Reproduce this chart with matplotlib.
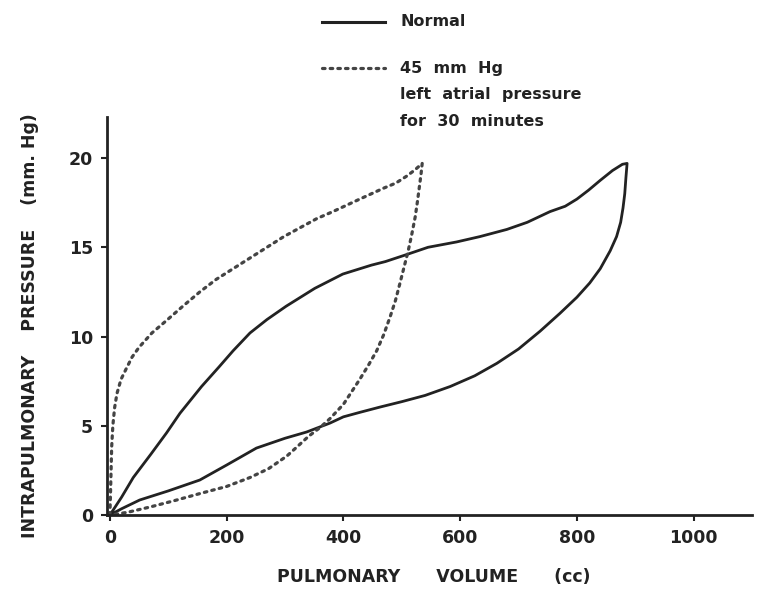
import matplotlib.pyplot as plt
from matplotlib.lines import Line2D

# pressure-volume loops, volume in cc, pressure in mm Hg
normal_in_vol = [0, 20, 40, 70, 97, 120, 157, 187, 211, 240, 269, 302, 351, 399,
                 448, 472, 509, 545, 594, 634, 680, 715, 754, 780, 800, 820, 840,
                 861, 878, 886]
normal_in_pres = [0, 1.0, 2.1, 3.4, 4.6, 5.7, 7.2, 8.3, 9.2, 10.2, 10.95, 11.7,
                  12.7, 13.5, 14.0, 14.2, 14.6, 15.0, 15.3, 15.6, 16.0, 16.4,
                  17.0, 17.3, 17.7, 18.2, 18.75, 19.3, 19.65, 19.7]
normal_out_vol = [886, 884, 882, 879, 875, 868, 857, 840, 822, 800, 771, 737,
                  700, 663, 625, 583, 540, 500, 463, 428, 400, 377, 337, 300,
                  251, 200, 154, 100, 51, 20, 0]
normal_out_pres = [19.7, 18.9, 18.0, 17.2, 16.4, 15.6, 14.8, 13.8, 13.0, 12.2,
                   11.3, 10.3, 9.3, 8.5, 7.8, 7.2, 6.7, 6.35, 6.05, 5.75, 5.5,
                   5.15, 4.65, 4.3, 3.75, 2.8, 1.96, 1.35, 0.84, 0.35, 0]

lap_in_vol = [0, 1, 2, 3, 5, 8, 12, 19, 28, 38, 50, 72, 97, 125, 154, 182, 211,
              240, 269, 298, 326, 354, 382, 405, 428, 468, 490, 509, 523, 535]
lap_in_pres = [0, 1.2, 2.5, 3.8, 5.0, 6.0, 6.8, 7.6, 8.2, 8.85, 9.4, 10.2, 10.9,
               11.7, 12.5, 13.2, 13.8, 14.4, 15.0, 15.6, 16.1, 16.6, 17.0, 17.35,
               17.7, 18.3, 18.6, 19.0, 19.35, 19.7]
lap_out_vol = [535, 533, 531, 527, 523, 517, 511, 504, 497, 489, 480, 469, 457,
               443, 428, 414, 400, 377, 360, 340, 320, 303, 272, 240, 200, 154,
               110, 69, 30, 0]
lap_out_pres = [19.7, 19.1, 18.6, 17.6, 16.7, 15.7, 14.8, 13.9, 13.0, 12.0, 11.1,
                10.1, 9.2, 8.4, 7.6, 6.9, 6.2, 5.4, 4.9, 4.4, 3.8, 3.3, 2.6, 2.1,
                1.6, 1.2, 0.8, 0.45, 0.15, 0]

x_ticks = [0, 200, 400, 600, 800, 1000]
y_ticks = [0, 5, 10, 15, 20]

ink = '#222222'
txt = dict(color=ink, fontweight='bold', family='DejaVu Sans')
dots = (0, (0.8, 1.6))

fig = plt.figure(figsize=(7.59, 5.91), dpi=100)
ax = fig.add_axes([107 / 759, 1 - 515 / 591, (752 - 107) / 759, (515 - 117) / 591])

ax.plot(normal_in_vol + normal_out_vol, normal_in_pres + normal_out_pres,
        color=ink, lw=2.0, solid_joinstyle='round', clip_on=False)
ax.plot(lap_in_vol + lap_out_vol, lap_in_pres + lap_out_pres,
        color='#444444', lw=2.3, linestyle=dots, dash_capstyle='round', clip_on=False)

ax.set_xlim(-5, 1100)
ax.set_ylim(0, 22.3)
ax.set_xticks(x_ticks)
ax.set_yticks(y_ticks)
ax.set_xticklabels([str(v) for v in x_ticks], **txt, fontsize=12.5)
ax.set_yticklabels([str(v) for v in y_ticks], **txt, fontsize=12.5)
ax.tick_params(length=4, width=1.5, color=ink, pad=6)
for side in ['top', 'right']:
    ax.spines[side].set_visible(False)
for side in ['left', 'bottom']:
    ax.spines[side].set_linewidth(2.0)
    ax.spines[side].set_color(ink)

fig.text(434 / 759, 1 - 577 / 591, 'PULMONARY      VOLUME      (cc)',
         ha='center', va='center', fontsize=12.5, **txt)
fig.text(30 / 759, 1 - 326 / 591, 'INTRAPULMONARY    PRESSURE    (mm. Hg)',
         ha='center', va='center', rotation=90, fontsize=12.5, **txt)

# key at the top
fig.add_artist(Line2D([322 / 759, 385 / 759], [1 - 22 / 591, 1 - 22 / 591],
                      color=ink, lw=2.2))
fig.add_artist(Line2D([322 / 759, 385 / 759], [1 - 68 / 591, 1 - 68 / 591],
                      color='#444444', lw=2.3, linestyle=dots, dash_capstyle='round'))
fig.text(400 / 759, 1 - 22 / 591, 'Normal', ha='left', va='center', fontsize=11.5, **txt)
fig.text(400 / 759, 1 - 68 / 591, '45  mm  Hg', ha='left', va='center', fontsize=11.5, **txt)
fig.text(400 / 759, 1 - 95 / 591, 'left  atrial  pressure', ha='left', va='center',
         fontsize=11.5, **txt)
fig.text(400 / 759, 1 - 122 / 591, 'for  30  minutes', ha='left', va='center',
         fontsize=11.5, **txt)

fig.savefig('out.png', dpi=100, facecolor='white')
